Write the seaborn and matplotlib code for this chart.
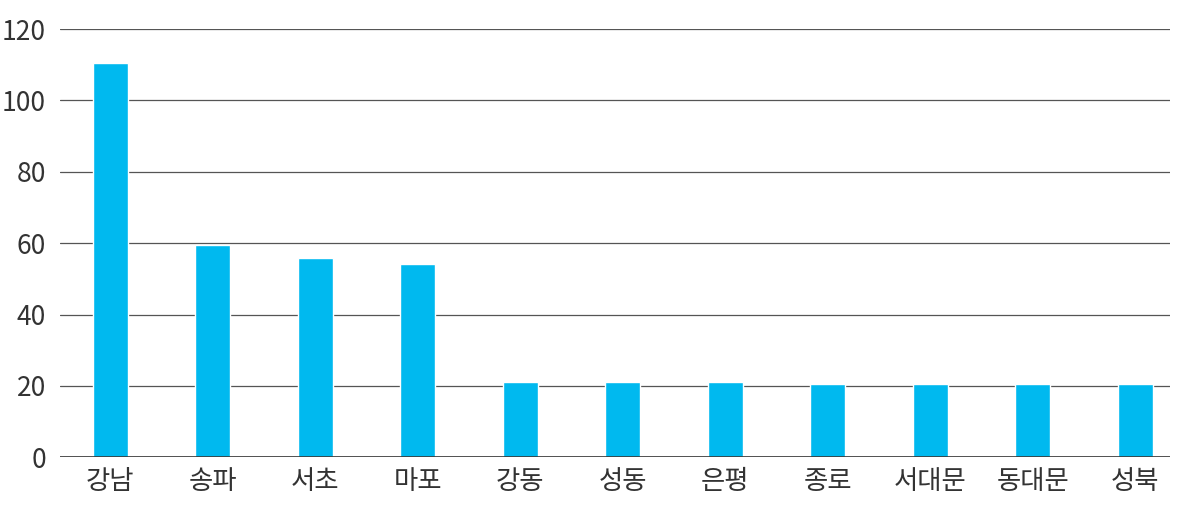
import matplotlib
matplotlib.use("Agg")
import matplotlib.pyplot as plt
import seaborn as sns
import pandas as pd

districts = ["강남", "송파", "서초", "마포", "강동", "성동", "은평", "종로", "서대문", "동대문", "성북"]
values = [110.5, 59.5, 55.8, 54.1, 21.0, 21.0, 21.0, 20.5, 20.5, 20.5, 20.5]
yticks = [0, 20, 40, 60, 80, 100, 120]

sns.set_theme(style="white")
plt.rcParams['font.family'] = ['Noto Sans CJK KR', 'DejaVu Sans']

fig = plt.figure(figsize=(12, 5.19), dpi=100)
ax = fig.add_axes([0.05, 0.119, 0.925, 0.825])
df = pd.DataFrame({"d": districts, "v": values})
sns.barplot(data=df, x="d", y="v", color="#00B9EF", saturation=1, width=0.34, ax=ax, zorder=3)
ax.set_ylim(0, 120)
ax.set_xlim(-0.49, 10.34)
ax.set_yticks(yticks)
for y in yticks[1:]:
    ax.axhline(y, color="#555555", lw=0.9, zorder=1)
ax.axhline(0, color="#333333", lw=1.2, zorder=4)
for s in ax.spines.values():
    s.set_visible(False)
ax.set_xlabel("")
ax.set_ylabel("")
ax.tick_params(axis="both", length=0, labelsize=19, colors="#333333")
ax.tick_params(axis="y", pad=10)
ax.tick_params(axis="x", pad=8)
fig.savefig("out.png", dpi=100)
